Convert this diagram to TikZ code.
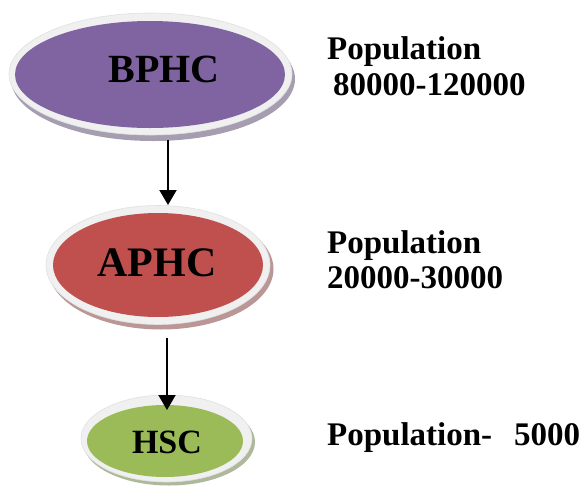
\documentclass[tikz,border=0pt]{standalone}
\usepackage{fontspec}
\setmainfont{Liberation Serif}
\usetikzlibrary{shapes.geometric,arrows.meta}
\definecolor{cpurple}{HTML}{8064A2}
\definecolor{cred}{HTML}{C0504D}
\definecolor{cgreen}{HTML}{9BBB59}
\definecolor{ring}{HTML}{F0F0F0}
\tikzset{
  oval/.style={ellipse,inner sep=0pt,draw=none},
  ringoval/.style={oval,fill=ring,draw=black!12,line width=0.6pt},
  lbl/.style={font=\bfseries,text=black,inner sep=0pt},
  side/.style={font=\bfseries\fontsize{33}{36}\selectfont,inner sep=0pt,anchor=base west,align=left},
  arr/.style={line width=2pt,-{Triangle[width=17pt,length=15pt]}}
}
\begin{document}
\begin{tikzpicture}[x=1pt,y=-1pt]
\useasboundingbox (0,0) rectangle (584,488);
% BPHC
\node[oval,fill=cpurple!45!gray!70,minimum width=284pt,minimum height=124pt] (bphcsh) at (153,79) {};
\node[ringoval,minimum width=283pt,minimum height=122pt] (bphcring) at (150.5,74) {};
\node[oval,fill=cpurple,minimum width=270pt,minimum height=107pt] (bphc) at (150,74.5) {};
\node[lbl,font=\bfseries\fontsize{40}{44}\selectfont] (bphct) at (164,69) {BPHC};
% APHC
\node[oval,fill=cred!45!gray!70,minimum width=225pt,minimum height=121pt] (aphcsh) at (161,269) {};
\node[ringoval,minimum width=224pt,minimum height=119pt] (aphcring) at (158,265) {};
\node[oval,fill=cred,minimum width=210pt,minimum height=104pt] (aphc) at (158,265) {};
\node[lbl,font=\bfseries\fontsize{42}{46}\selectfont] (aphct) at (157,263) {APHC};
% HSC
\node[oval,fill=cgreen!45!gray!70,minimum width=172pt,minimum height=87pt] (hscsh) at (169,442) {};
\node[ringoval,minimum width=171pt,minimum height=87pt] (hscring) at (166.5,438.5) {};
\node[oval,fill=cgreen,minimum width=156pt,minimum height=72pt] (hsc) at (165,441) {};
\node[lbl,font=\bfseries\fontsize{34}{38}\selectfont] (hsct) at (167,442) {HSC};
% arrows
\coordinate (a1s) at (168,140);
\coordinate (a1e) at (168,205);
\coordinate (a2s) at (167,338);
\coordinate (a2e) at (167,410);
\draw[arr] (a1s) -- (a1e);
\draw[arr] (a2s) -- (a2e);
% side texts
\node[side] (p1) at (327,59) {Population};
\node[side] (p1n) at (333,95) {80000-120000};
\node[side] (p2) at (327,253) {Population};
\node[side] (p2n) at (327,288) {20000-30000};
\node[side] (p3) at (327,445) {Population-\ \ \,5000};
\end{tikzpicture}
\end{document}
